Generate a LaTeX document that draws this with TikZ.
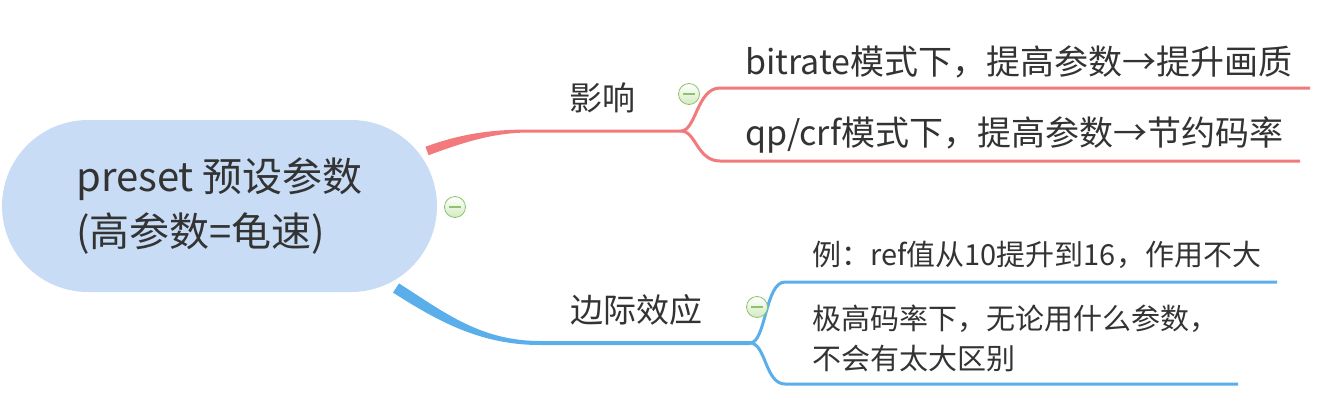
\documentclass[tikz,border=0pt]{standalone}
\usepackage{fontspec}
\setmainfont{Noto Sans CJK SC}
\usetikzlibrary{positioning,calc}
\definecolor{rootblue}{HTML}{C9DCF5}
\definecolor{branchred}{HTML}{F27A7D}
\definecolor{branchblue}{HTML}{5AAEEA}
\definecolor{btngreen}{HTML}{8DC26F}
\definecolor{btnfill}{HTML}{D3EBC0}
\definecolor{txtgray}{HTML}{333333}

\begin{document}
\begin{tikzpicture}[
    x=1pt, y=-1pt,
    root/.style={rectangle, fill=rootblue, rounded corners=86pt, minimum width=435pt, minimum height=172pt, align=left, text=txtgray, font=\fontsize{40}{55}\selectfont},
    topic/.style={text=txtgray, font=\fontsize{33}{40}\selectfont, inner sep=0pt},
    leaf/.style={text=txtgray, font=\fontsize{34}{40}\selectfont, inner sep=0pt, anchor=west},
    smallleaf/.style={leaf, font=\fontsize{29}{40}\selectfont, align=left},
    toggle/.style={circle, draw=btngreen, line width=0.8pt, top color=white, bottom color=btnfill, minimum size=21pt, inner sep=0pt,
        path picture={\draw[btngreen, line width=1.2pt] ([xshift=-6pt]path picture bounding box.center) -- ([xshift=6pt]path picture bounding box.center);}},
    redline/.style={draw=branchred, line width=3pt},
    blueline/.style={draw=branchblue, line width=3pt}
]
\useasboundingbox (0,0) rectangle (1334,402);

\node[root] (root) at (219.5,206) {preset 预设参数\\(高参数=龟速)};
\node[topic] (impact) at (602,98) {影响};
\node[topic] (margin) at (636,310) {边际效应};
\node[leaf] (bitrate) at (745,62) {bitrate模式下，提高参数→提升画质};
\node[leaf] (qpcrf) at (745,135) {qp/crf模式下，提高参数→节约码率};
\node[smallleaf] (refex) at (812,255) {例：ref值从10提升到16，作用不大};
\node[smallleaf] (highrate) at (812,338) {极高码率下，无论用什么参数，\\不会有太大区别};

\coordinate (impj) at (681,131);
\coordinate (effj) at (750,343);
\coordinate (bitrate-l) at (720,88);
\coordinate (bitrate-r) at (1310,88);
\coordinate (qpcrf-l) at (720,161);
\coordinate (qpcrf-r) at (1300,161);
\coordinate (refex-l) at (785,282);
\coordinate (refex-r) at (1277,282);
\coordinate (highrate-l) at (785,384);
\coordinate (highrate-r) at (1238,384);

\fill[branchred] (425.4,146.8) .. controls (463.5,132.8) and (495,129.5) .. (530,129.5) -- ($(impj)+(0,-1.5)$) -- ($(impj)+(0,1.5)$)
    -- (530,132.5) .. controls (495,132.5) and (466.5,141.2) .. (428.6,155.2) -- cycle;
\fill[branchblue] (399,283.4) .. controls (443,311.4) and (480,341) .. (540,341) -- ($(effj)+(0,-2)$) -- ($(effj)+(0,2)$)
    -- (540,345) .. controls (480,345) and (437,320.6) .. (393,292.6) -- cycle;

\draw[redline] (impj) .. controls (696,131) and (697,88) .. (bitrate-l) -- (bitrate-r);
\draw[redline] (impj) .. controls (696,131) and (697,161) .. (qpcrf-l) -- (qpcrf-r);
\draw[blueline] (effj) .. controls (766,343) and (765,282) .. (refex-l) -- (refex-r);
\draw[blueline] (effj) .. controls (766,343) and (765,384) .. (highrate-l) -- (highrate-r);

\node[toggle] (rootbtn) at (455,207) {};
\node[toggle] (impbtn) at (689,94) {};
\node[toggle] (effbtn) at (757,307) {};

\end{tikzpicture}
\end{document}
